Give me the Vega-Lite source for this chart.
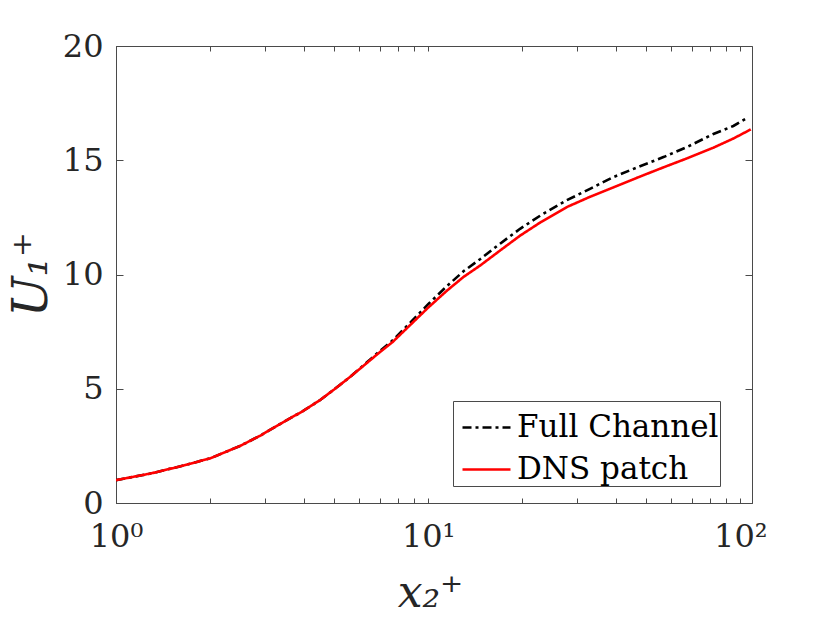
{
  "$schema": "https://vega.github.io/schema/vega-lite/v6.json",
  "autosize": "none",
  "width": 636,
  "height": 457,
  "padding": {"left": 116, "top": 46, "right": 78, "bottom": 120},
  "background": "white",
  "config": {
    "view": {"stroke": "#4a4a4a", "strokeWidth": 1},
    "axis": {"grid": false, "labelFont": "DejaVu Serif", "labelColor": "#262626", "labelFontSize": 32, "tickColor": "#4a4a4a", "domainColor": "#4a4a4a", "titleColor": "#262626"}
  },
  "data": {"values": [
    {"x": 1.0, "u": 1.0, "s": "Full Channel"},
    {"x": 1.3, "u": 1.3, "s": "Full Channel"},
    {"x": 1.6, "u": 1.6, "s": "Full Channel"},
    {"x": 2.0, "u": 1.95, "s": "Full Channel"},
    {"x": 2.5, "u": 2.5, "s": "Full Channel"},
    {"x": 2.9, "u": 2.95, "s": "Full Channel"},
    {"x": 3.4, "u": 3.5, "s": "Full Channel"},
    {"x": 4.0, "u": 4.05, "s": "Full Channel"},
    {"x": 4.5, "u": 4.5, "s": "Full Channel"},
    {"x": 5.0, "u": 4.97, "s": "Full Channel"},
    {"x": 5.6, "u": 5.5, "s": "Full Channel"},
    {"x": 6.2, "u": 6.02, "s": "Full Channel"},
    {"x": 7.0, "u": 6.65, "s": "Full Channel"},
    {"x": 7.7, "u": 7.12, "s": "Full Channel"},
    {"x": 8.7, "u": 7.85, "s": "Full Channel"},
    {"x": 10, "u": 8.7, "s": "Full Channel"},
    {"x": 11.5, "u": 9.5, "s": "Full Channel"},
    {"x": 13, "u": 10.15, "s": "Full Channel"},
    {"x": 14.7, "u": 10.68, "s": "Full Channel"},
    {"x": 17, "u": 11.35, "s": "Full Channel"},
    {"x": 19.7, "u": 12.0, "s": "Full Channel"},
    {"x": 23, "u": 12.6, "s": "Full Channel"},
    {"x": 27.8, "u": 13.25, "s": "Full Channel"},
    {"x": 33, "u": 13.75, "s": "Full Channel"},
    {"x": 39, "u": 14.25, "s": "Full Channel"},
    {"x": 47, "u": 14.7, "s": "Full Channel"},
    {"x": 57, "u": 15.15, "s": "Full Channel"},
    {"x": 68, "u": 15.6, "s": "Full Channel"},
    {"x": 82, "u": 16.15, "s": "Full Channel"},
    {"x": 95, "u": 16.5, "s": "Full Channel"},
    {"x": 105, "u": 16.85, "s": "Full Channel"},
    {"x": 1.0, "u": 1.0, "s": "DNS patch"},
    {"x": 1.3, "u": 1.3, "s": "DNS patch"},
    {"x": 1.6, "u": 1.6, "s": "DNS patch"},
    {"x": 2.0, "u": 1.95, "s": "DNS patch"},
    {"x": 2.5, "u": 2.5, "s": "DNS patch"},
    {"x": 2.9, "u": 2.95, "s": "DNS patch"},
    {"x": 3.4, "u": 3.5, "s": "DNS patch"},
    {"x": 4.0, "u": 4.05, "s": "DNS patch"},
    {"x": 4.5, "u": 4.5, "s": "DNS patch"},
    {"x": 5.0, "u": 4.97, "s": "DNS patch"},
    {"x": 5.6, "u": 5.5, "s": "DNS patch"},
    {"x": 6.2, "u": 6.0, "s": "DNS patch"},
    {"x": 7.0, "u": 6.6, "s": "DNS patch"},
    {"x": 7.7, "u": 7.05, "s": "DNS patch"},
    {"x": 8.7, "u": 7.75, "s": "DNS patch"},
    {"x": 10, "u": 8.55, "s": "DNS patch"},
    {"x": 11.5, "u": 9.3, "s": "DNS patch"},
    {"x": 13, "u": 9.9, "s": "DNS patch"},
    {"x": 14.7, "u": 10.4, "s": "DNS patch"},
    {"x": 17, "u": 11.05, "s": "DNS patch"},
    {"x": 19.7, "u": 11.7, "s": "DNS patch"},
    {"x": 23, "u": 12.3, "s": "DNS patch"},
    {"x": 27.8, "u": 12.95, "s": "DNS patch"},
    {"x": 33, "u": 13.4, "s": "DNS patch"},
    {"x": 39, "u": 13.8, "s": "DNS patch"},
    {"x": 47, "u": 14.25, "s": "DNS patch"},
    {"x": 57, "u": 14.7, "s": "DNS patch"},
    {"x": 68, "u": 15.1, "s": "DNS patch"},
    {"x": 82, "u": 15.55, "s": "DNS patch"},
    {"x": 95, "u": 15.95, "s": "DNS patch"},
    {"x": 108, "u": 16.35, "s": "DNS patch"}
  ]},
  "layer": [
    {
      "mark": {"type": "line", "strokeWidth": 2.6, "clip": true},
      "encoding": {
        "x": {"field": "x", "type": "quantitative",
          "scale": {"type": "log", "domain": [1, 109], "nice": false},
          "axis": {"orient": "bottom", "values": [1,2,3,4,5,6,7,8,9,10,20,30,40,50,60,70,80,90,100],
            "labelExpr": "datum.value == 1 ? '10⁰' : datum.value == 10 ? '10¹' : datum.value == 100 ? '10²' : ''",
            "labelFlush": false, "labelOverlap": false, "labelBound": false,
            "tickSize": -5, "labelPadding": 23, "labelBaseline": "top",
            "title": "x₂⁺", "titleFont": "DejaVu Serif", "titleFontStyle": "italic", "titleFontWeight": "normal", "titleFontSize": 44,
            "titleX": 314, "titleY": 90, "titleBaseline": "middle", "titleAlign": "center"}},
        "y": {"field": "u", "type": "quantitative",
          "scale": {"domain": [0, 20], "nice": false},
          "axis": {"orient": "left", "values": [0, 5, 10, 15, 20], "tickSize": -7, "labelPadding": 20, "labelFlush": false, "labelOverlap": false,
            "title": "U₁⁺", "titleFont": "DejaVu Serif", "titleFontStyle": "italic", "titleFontWeight": "normal", "titleFontSize": 48,
            "titleX": -84, "titleY": 228, "titleAngle": -90, "titleBaseline": "middle", "titleAlign": "center"}},
        "color": {"field": "s", "type": "nominal",
          "scale": {"domain": ["Full Channel", "DNS patch"], "range": ["#000000", "#ff0000"]},
          "legend": {"orient": "none", "legendX": 337, "legendY": 355, "title": null,
            "strokeColor": "#4a4a4a", "fillColor": "white", "padding": 1,
            "symbolType": "stroke", "symbolSize": 2304, "symbolStrokeWidth": 2.6, "symbolOffset": 7,
            "labelFont": "DejaVu Serif", "labelFontSize": 31, "labelColor": "#000000", "labelOffset": 5, "rowPadding": 1, "labelLimit": 400}},
        "strokeDash": {"field": "s", "type": "nominal",
          "scale": {"domain": ["Full Channel", "DNS patch"], "range": [[9, 4, 3, 4], [1, 0]]},
          "legend": null}
      }
    },
    {
      "mark": {"type": "line", "opacity": 0},
      "encoding": {
        "x": {"field": "x", "type": "quantitative",
          "axis": {"orient": "top", "values": [1,2,3,4,5,6,7,8,9,10,20,30,40,50,60,70,80,90,100], "labels": false, "title": null, "domain": false, "tickSize": -5}},
        "y": {"field": "u", "type": "quantitative",
          "axis": {"orient": "right", "values": [0, 5, 10, 15, 20], "labels": false, "title": null, "domain": false, "tickSize": -7}}
      }
    }
  ],
  "resolve": {"axis": {"x": "independent", "y": "independent"}}
}
